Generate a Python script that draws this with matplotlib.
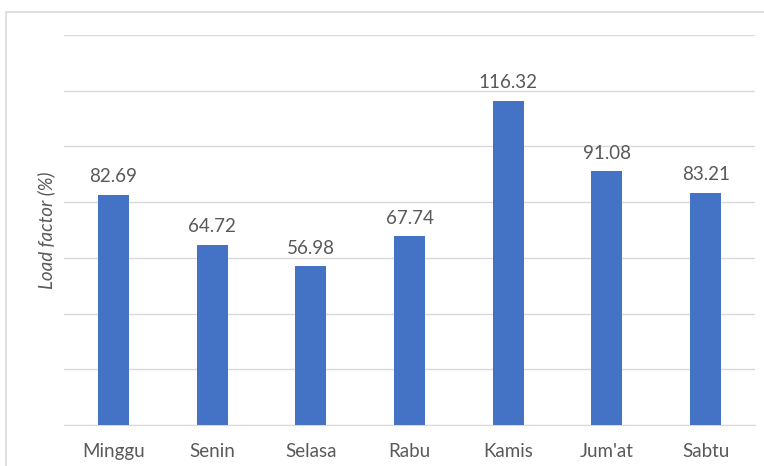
import matplotlib
matplotlib.use("Agg")
import matplotlib.pyplot as plt
import matplotlib.patches as mpatches
import numpy as np

days = ["Minggu", "Senin", "Selasa", "Rabu", "Kamis", "Jum'at", "Sabtu"]
load_factor = [82.69, 64.72, 56.98, 67.74, 116.32, 91.08, 83.21]
y_ticks = [0, 20, 40, 60, 80, 100, 120, 140]

BAR = "#4472C4"
GRID = "#d9d9d9"
TEXT = "#595959"
FS = 13.5

plt.rcParams["font.family"] = ["Lato", "DejaVu Sans"]

fig = plt.figure(figsize=(7.64, 4.66), dpi=100)
ax = fig.add_axes([64 / 764, 1 - 425 / 466, 691 / 764, 390 / 466])

x = np.arange(len(days))
bars = ax.bar(x, load_factor, width=0.315, color=BAR, zorder=3)
for b, v in zip(bars, load_factor):
    ax.annotate(f"{v:.2f}", xy=(b.get_x() + b.get_width() / 2, v),
                xytext=(0, 7), textcoords="offset points",
                ha="center", va="bottom", fontsize=FS, color=TEXT)

ax.set_xlim(-0.5, len(days) - 0.5)
ax.set_ylim(0, 140)
ax.set_yticks(y_ticks)
ax.set_yticklabels([])
ax.set_xticks(x)
ax.set_xticklabels(days, fontsize=FS, color=TEXT)
ax.tick_params(axis="both", length=0)
ax.tick_params(axis="x", pad=13)
ax.grid(axis="y", color=GRID, linewidth=1, zorder=0)
for side in ("top", "right", "left"):
    ax.spines[side].set_visible(False)
ax.spines["bottom"].set_color(GRID)
ax.set_ylabel("Load factor (%)", fontsize=FS, color=TEXT,
              fontstyle="italic", labelpad=3)

# chart border (only left and top edges fall inside the image)
border = mpatches.Rectangle((6 / 764, -0.1), 1.2, 1.1 - 12 / 466,
                            transform=fig.transFigure, fill=False,
                            edgecolor=GRID, linewidth=1.2, clip_on=False)
fig.patches.append(border)

fig.savefig("out.png", dpi=100, facecolor="white")
